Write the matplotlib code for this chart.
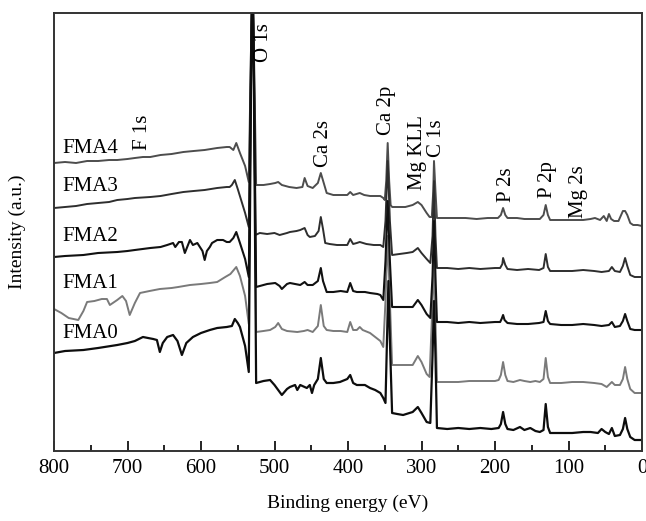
import numpy as np
import matplotlib
matplotlib.use('Agg')
import matplotlib.pyplot as plt
from matplotlib.ticker import MultipleLocator

# binding energy (eV) / intensity (a.u., offset stacked)
e_fma4 = [800, 785, 770, 755, 740, 725, 714, 700, 690, 679,
          669, 655, 640, 624, 610, 595, 578, 565, 561, 556,
          552, 547, 540, 535, 532, 530, 528, 525, 515, 506,
          499, 495, 490, 480, 470, 462, 459, 455, 448, 441,
          437, 433, 429, 420, 410, 401, 397, 393, 384, 378,
          370, 360, 356, 352, 350, 348, 346, 344, 342, 340,
          330, 322, 312, 305, 300, 293, 289, 286, 284, 283,
          281, 279, 270, 255, 240, 225, 210, 196, 192, 189,
          186, 183, 170, 160, 150, 139, 134, 131, 128, 125,
          110, 95, 80, 70, 64, 57, 52, 48, 45, 42,
          38, 32, 26, 23, 20, 16, 12, 6, 0]
i_fma4 = [288, 289, 288, 290, 290, 291, 291, 292, 293, 294,
          294, 296, 297, 299, 300, 301, 303, 304, 304, 301,
          308, 298, 285, 269, 400, 480, 400, 266, 266, 267,
          268, 269, 266, 264, 263, 264, 273, 265, 263, 268,
          278, 268, 258, 256, 256, 256, 259, 256, 258, 256,
          255, 255, 255, 253, 251, 270, 308, 270, 246, 244,
          244, 244, 246, 249, 246, 238, 234, 234, 260, 290,
          260, 233, 233, 233, 233, 232, 233, 233, 236, 243,
          236, 233, 233, 232, 232, 232, 236, 246, 236, 231,
          231, 231, 231, 232, 233, 231, 235, 230, 237, 232,
          230, 230, 240, 240, 236, 228, 226, 226, 225]

e_fma3 = [800, 785, 770, 755, 740, 725, 714, 700, 690, 669,
          655, 640, 624, 610, 595, 578, 565, 561, 558, 554,
          550, 545, 540, 535, 532, 530, 528, 526, 520, 510,
          500, 493, 483, 479, 470, 465, 459, 455, 452, 445,
          440, 437, 434, 431, 425, 415, 401, 397, 393, 388,
          384, 375, 365, 356, 352, 349, 346, 343, 340, 330,
          320, 312, 305, 300, 293, 288, 285, 283, 281, 279,
          265, 250, 235, 220, 200, 193, 190, 189, 186, 183,
          170, 155, 140, 134, 131, 128, 125, 110, 95, 80,
          65, 55, 45, 41, 37, 30, 26, 23, 20, 16,
          10, 0]
i_fma3 = [243, 244, 245, 247, 248, 249, 251, 252, 253, 254,
          255, 257, 259, 260, 261, 263, 264, 264, 266, 271,
          262, 250, 238, 224, 400, 480, 400, 216, 218, 217,
          218, 216, 218, 219, 220, 221, 223, 216, 214, 215,
          220, 234, 222, 208, 207, 206, 206, 212, 207, 208,
          209, 207, 206, 206, 204, 230, 290, 230, 196, 197,
          198, 199, 203, 198, 192, 188, 215, 270, 215, 183,
          183, 182, 183, 182, 183, 183, 187, 193, 186, 182,
          181, 182, 181, 183, 197, 184, 180, 180, 180, 181,
          180, 179, 180, 184, 180, 179, 185, 193, 185, 176,
          174, 174]

e_fma2 = [800, 785, 760, 740, 714, 700, 690, 669, 655, 646,
          638, 635, 630, 626, 622, 615, 611, 605, 598, 595,
          592, 588, 585, 578, 570, 565, 561, 556, 552, 547,
          540, 535, 532, 530, 528, 525, 515, 510, 499, 493,
          490, 483, 479, 465, 459, 455, 448, 441, 437, 434,
          429, 420, 410, 401, 397, 393, 388, 377, 370, 360,
          356, 352, 349, 346, 343, 340, 330, 320, 312, 305,
          300, 293, 288, 285, 283, 281, 279, 265, 250, 235,
          220, 200, 193, 191, 189, 187, 183, 170, 155, 140,
          134, 131, 128, 125, 110, 95, 80, 65, 55, 45,
          41, 37, 30, 26, 23, 20, 16, 10, 0]
i_fma2 = [194, 195, 196, 198, 199, 200, 201, 203, 204, 206,
          208, 204, 209, 209, 198, 211, 206, 208, 200, 191,
          200, 204, 208, 211, 211, 209, 209, 213, 219, 208,
          192, 174, 380, 480, 380, 164, 166, 167, 168, 165,
          162, 167, 168, 166, 169, 166, 166, 170, 183, 170,
          159, 159, 160, 159, 168, 160, 159, 159, 158, 157,
          156, 151, 190, 250, 190, 144, 144, 144, 144, 151,
          146, 137, 133, 175, 230, 175, 129, 129, 128, 129,
          128, 129, 129, 132, 136, 131, 128, 127, 127, 128,
          129, 140, 130, 127, 126, 126, 127, 126, 125, 126,
          129, 124, 125, 130, 137, 130, 122, 121, 121]

e_fma1 = [800, 790, 780, 767, 760, 755, 745, 735, 728, 724,
          714, 707, 702, 697, 690, 683, 670, 656, 640, 631,
          615, 600, 588, 578, 567, 560, 552, 547, 540, 535,
          532, 530, 528, 525, 515, 506, 499, 495, 490, 483,
          469, 460, 455, 448, 441, 437, 433, 429, 420, 410,
          401, 397, 393, 388, 384, 380, 370, 363, 356, 352,
          349, 346, 343, 340, 330, 320, 312, 305, 300, 293,
          289, 286, 283, 281, 279, 265, 250, 235, 220, 200,
          195, 192, 189, 186, 183, 175, 166, 160, 152, 145,
          139, 134, 131, 128, 125, 110, 95, 80, 65, 55,
          48, 41, 37, 30, 26, 23, 20, 16, 10, 0]
i_fma1 = [142, 138, 133, 131, 140, 149, 150, 152, 152, 146,
          151, 155, 150, 136, 148, 158, 160, 162, 163, 164,
          166, 167, 168, 169, 174, 177, 184, 175, 155, 127,
          380, 480, 380, 119, 120, 121, 124, 128, 122, 120,
          119, 120, 121, 119, 125, 146, 125, 121, 120, 120,
          119, 129, 121, 121, 124, 121, 118, 114, 110, 104,
          150, 215, 150, 86, 86, 86, 86, 95, 89, 77,
          74, 130, 190, 130, 69, 69, 69, 70, 70, 70,
          71, 76, 89, 76, 70, 69, 71, 70, 69, 70,
          69, 72, 93, 74, 68, 68, 69, 69, 68, 67,
          64, 69, 66, 66, 72, 84, 72, 62, 58, 58]

e_fma0 = [800, 785, 760, 740, 714, 700, 690, 679, 665, 660,
          656, 652, 646, 638, 632, 626, 620, 611, 600, 588,
          578, 565, 558, 554, 550, 547, 540, 535, 532, 530,
          528, 525, 515, 506, 500, 495, 490, 483, 479, 472,
          469, 465, 456, 452, 449, 446, 441, 437, 433, 429,
          420, 411, 401, 397, 393, 388, 377, 370, 363, 356,
          352, 349, 347, 345, 343, 340, 333, 325, 312, 305,
          300, 293, 288, 285, 283, 281, 279, 265, 250, 235,
          220, 205, 195, 192, 189, 186, 183, 175, 166, 160,
          152, 145, 139, 134, 131, 128, 125, 110, 95, 80,
          70, 60, 55, 50, 45, 41, 37, 30, 26, 23,
          20, 16, 10, 0]
i_fma0 = [98, 100, 101, 103, 106, 108, 110, 114, 112, 111,
          99, 108, 114, 116, 110, 96, 108, 114, 118, 121,
          123, 124, 125, 132, 128, 124, 105, 79, 360, 480,
          360, 68, 70, 71, 66, 61, 56, 62, 64, 66,
          61, 66, 63, 66, 58, 66, 72, 93, 72, 68,
          68, 69, 72, 76, 68, 66, 66, 63, 61, 58,
          53, 48, 110, 170, 110, 38, 37, 36, 39, 44,
          38, 29, 28, 95, 150, 95, 23, 22, 23, 22,
          23, 22, 23, 27, 39, 27, 22, 21, 24, 21,
          23, 20, 19, 21, 47, 24, 18, 18, 18, 19,
          19, 18, 22, 19, 17, 23, 15, 16, 22, 33,
          22, 14, 11, 11]

sample_names = ['FMA4', 'FMA3', 'FMA2', 'FMA1', 'FMA0']
sample_label_y = [298, 260, 210, 163, 113]

peak_names = ['F 1s', 'O 1s', 'Ca 2s', 'Ca 2p', 'Mg KLL', 'C 1s', 'P 2s', 'P 2p', 'Mg 2s']
peak_e = [679, 515, 433, 347, 306, 280, 184, 128, 86]
peak_y = [301, 428, 284, 316, 261, 294, 249, 253, 233]

plt.rcParams['font.family'] = 'Liberation Serif'

fig = plt.figure(figsize=(6.46, 5.21), dpi=100)
ax = fig.add_axes([54 / 646, 1 - 451 / 521, 588 / 646, 438 / 521])

# gray curves first so the black ones sit on top in the spikes
ax.plot(e_fma1, i_fma1, color='#7a7a7a', lw=1.4)
ax.plot(e_fma4, i_fma4, color='#4d4d4d', lw=1.4)
ax.plot(e_fma3, i_fma3, color='#2e2e2e', lw=1.4)
ax.plot(e_fma2, i_fma2, color='#111111', lw=1.5)
ax.plot(e_fma0, i_fma0, color='#0d0d0d', lw=1.6)

ax.set_xlim(800, 0)
ax.set_ylim(0, 438)

for name, y in zip(sample_names, sample_label_y):
	ax.text(789, y, name, fontsize=15, ha='left', va='baseline')

for name, e, y in zip(peak_names, peak_e, peak_y):
	if name == 'O 1s':
		ax.text(e, y, name, fontsize=15, rotation=90, ha='center', va='top')
	else:
		ax.text(e, y, name, fontsize=15, rotation=90, ha='center', va='bottom')

ax.xaxis.set_major_locator(MultipleLocator(100))
ax.xaxis.set_minor_locator(MultipleLocator(50))
ax.tick_params(axis='x', which='major', direction='in', length=7, width=1.2, labelsize=15, pad=6)
ax.tick_params(axis='x', which='minor', direction='in', length=4, width=1.2)
ax.set_yticks([])
for s in ax.spines.values():
	s.set_linewidth(1.4)
	s.set_color('#333333')

ax.set_xlabel('Binding energy (eV)', fontsize=14, labelpad=12)
ax.set_ylabel('Intensity (a.u.)', fontsize=14, labelpad=20)

fig.savefig('out.png', dpi=100)
